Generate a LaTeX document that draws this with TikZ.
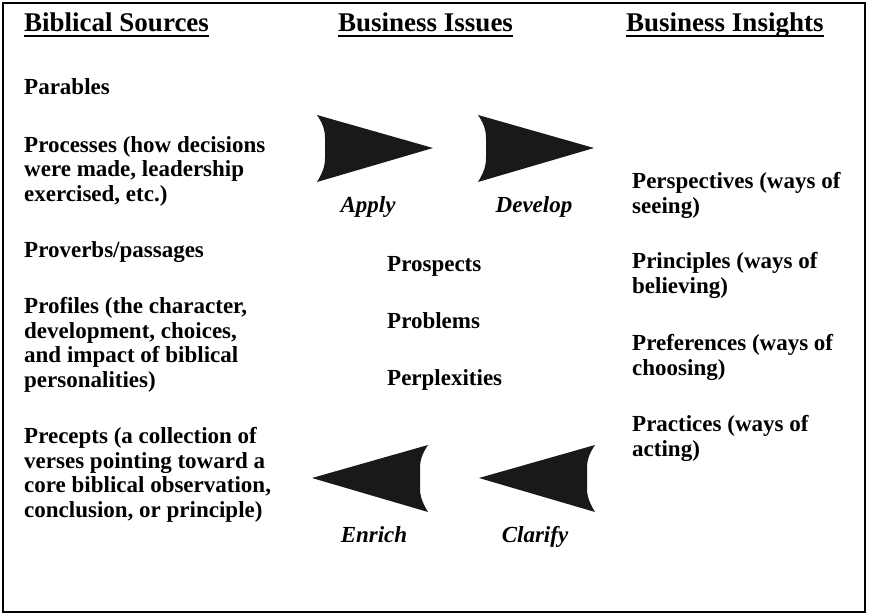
\documentclass[tikz,border=0pt]{standalone}
\usepackage{fontspec}
\setmainfont{Liberation Serif}
\usepackage{tikz}
\usetikzlibrary{positioning}

\tikzset{
  dart/.pic={
    \path[fill=black!90] (-8,-33) -- (108,0) -- (-8,34)
      .. controls (-2,24) and (0,18) .. (0,10) -- (0,-10)
      .. controls (0,-18) and (-2,-24) .. (-8,-33) -- cycle;
  }
}

\begin{document}
\begin{tikzpicture}[
  x=1pt, y=-1pt,
  head/.style={inner sep=0pt, anchor=base west, font=\fontsize{27}{30}\selectfont\bfseries},
  item/.style={inner sep=0pt, anchor=north west, align=left, font=\fontsize{23}{24.8}\selectfont\bfseries},
  verb/.style={inner sep=0pt, anchor=base, font=\fontsize{23}{25}\selectfont\bfseries\itshape},
  rule/.style={line width=2pt}
]
  \useasboundingbox (0,0) rectangle (873,615);
  \draw[line width=2.5pt] (3,3) rectangle (865,612);

  % Column heads
  \node[head] (sources) at (24,32) {Biblical Sources};
  \node[head] (issues) at (338,32) {Business Issues};
  \node[head] (insights) at (626,32) {Business Insights};
  \foreach \h in {sources, issues, insights}
    \draw[rule] ([yshift=-4pt]\h.base west) -- ([yshift=-4pt]\h.base east);

  % Biblical sources
  \node[item] (parables) at (24,78) {Parables};
  \node[item] (processes) at (24,136) {Processes (how decisions\\were made, leadership\\exercised, etc.)};
  \node[item] (proverbs) at (24,241) {Proverbs/passages};
  \node[item] (profiles) at (24,297) {Profiles (the character,\\development, choices,\\and impact of biblical\\personalities)};
  \node[item] (precepts) at (24,427) {Precepts (a collection of\\verses pointing toward a\\core biblical observation,\\conclusion, or principle)};

  % Business issues
  \node[item] (prospects) at (387,256) {Prospects};
  \node[item] (problems) at (387,312) {Problems};
  \node[item] (perplexities) at (387,369) {Perplexities};

  % Business insights
  \node[item] (perspectives) at (632,172) {Perspectives (ways of\\seeing)};
  \node[item] (principles) at (632,252) {Principles (ways of\\believing)};
  \node[item] (preferences) at (632,334) {Preferences (ways of\\choosing)};
  \node[item] (practices) at (632,415) {Practices (ways of\\acting)};

  % Arrows
  \pic (applyarrow) at (325,148) {dart};
  \pic (developarrow) at (486,148) {dart};
  \pic[xscale=-1] (enricharrow) at (420,478) {dart};
  \pic[xscale=-1] (clarifyarrow) at (587,478) {dart};

  \node[verb] (apply) at (368,212) {Apply};
  \node[verb] (develop) at (534,212) {Develop};
  \node[verb] (enrich) at (374,542) {Enrich};
  \node[verb] (clarify) at (535,542) {Clarify};
\end{tikzpicture}
\end{document}
